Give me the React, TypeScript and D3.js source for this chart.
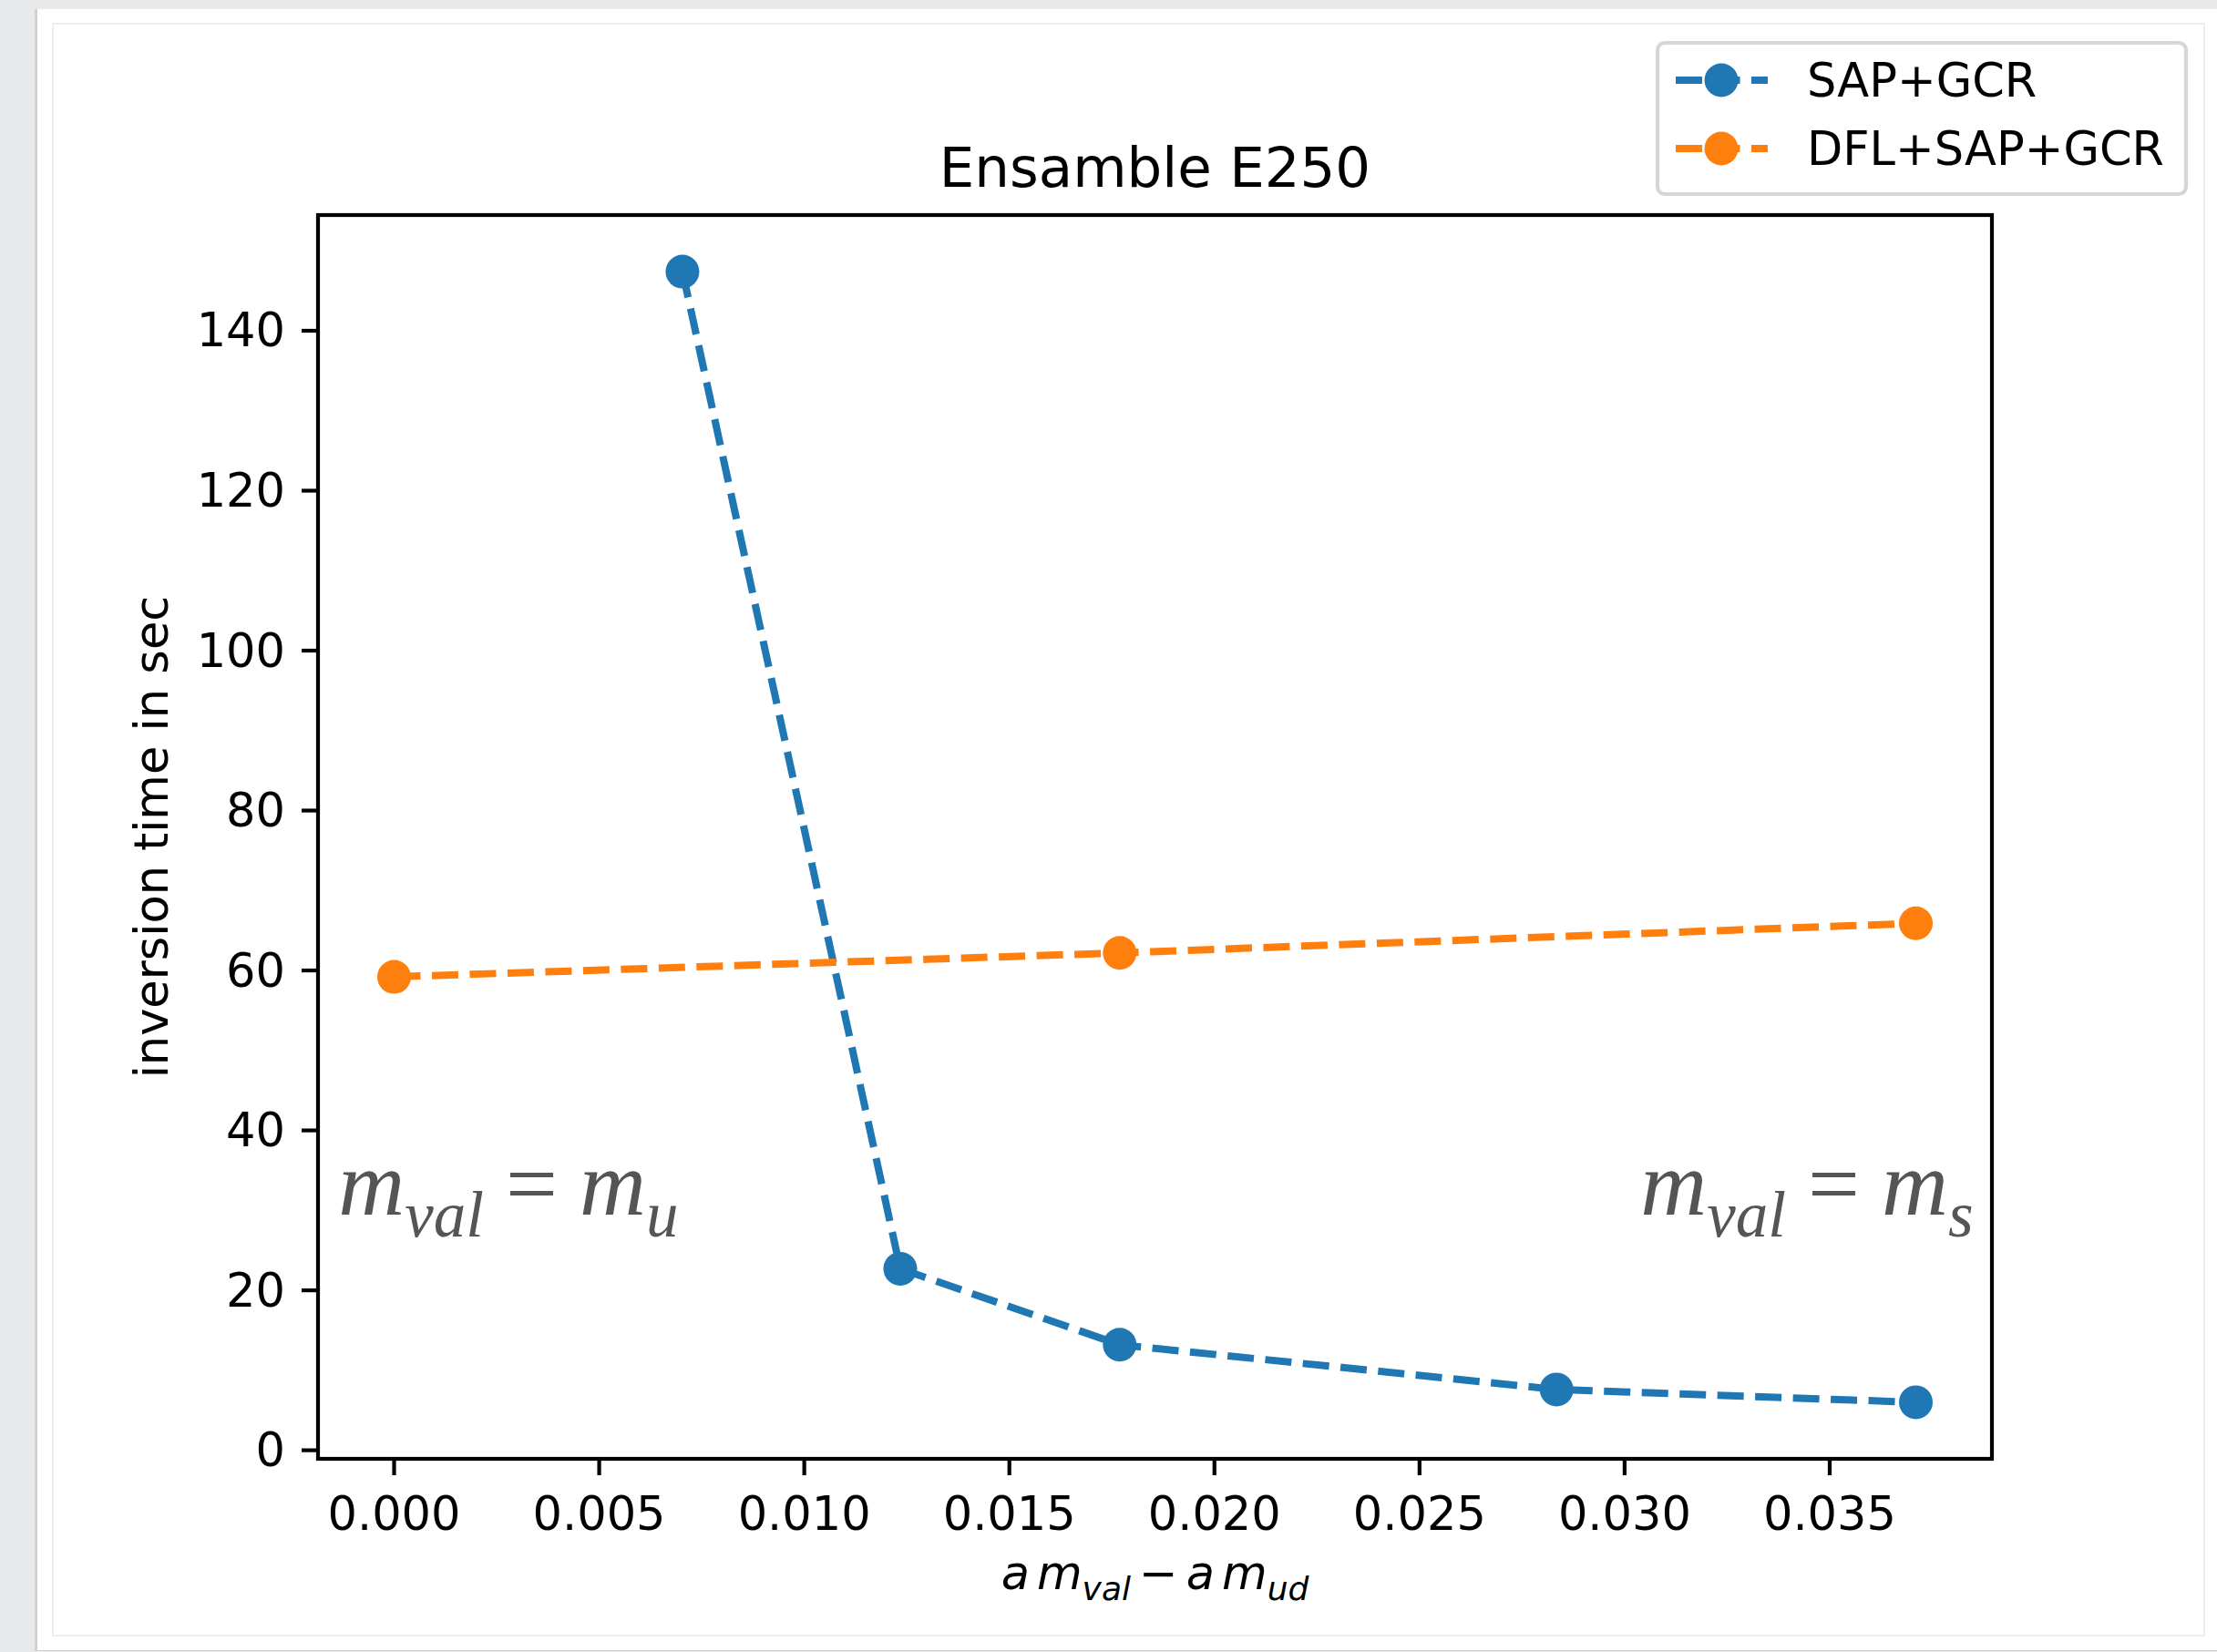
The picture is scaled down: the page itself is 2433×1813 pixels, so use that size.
import React from "react";
import * as d3 from "d3";

// data
const xSap = [0.00703, 0.01234, 0.01769, 0.02834, 0.0371];
const tSap = [147.4, 22.7, 13.2, 7.6, 6.0];
const xDfl = [0.0, 0.01769, 0.0371];
const tDfl = [59.2, 62.2, 65.9];
const xTicks = [0, 0.005, 0.01, 0.015, 0.02, 0.025, 0.03, 0.035];
const yTicks = [0, 20, 40, 60, 80, 100, 120, 140];
const seriesNames = ["SAP+GCR", "DFL+SAP+GCR"];
const seriesColors = ["#1f77b4", "#ff7f0e"];

const W = 2433;
const H = 1813;
const box = { left: 349, top: 236, right: 2186, bottom: 1601 };

// matplotlib-like 5% margins
const pad = (lo: number, hi: number): [number, number] => {
  const m = (hi - lo) * 0.05;
  return [lo - m, hi + m];
};

const allX = [...xSap, ...xDfl];
const allY = [...tSap, ...tDfl];

const x = d3
  .scaleLinear()
  .domain(pad(d3.min(allX)!, d3.max(allX)!))
  .range([box.left, box.right]);
const y = d3
  .scaleLinear()
  .domain(pad(d3.min(allY)!, d3.max(allY)!))
  .range([box.bottom, box.top]);

const LW = 8;
const DASH = "29 12.5";
const MR = 18.5;
const TICK = 18;
const SANS = "'DejaVu Sans', sans-serif";
const SERIF = "'Liberation Serif', 'DejaVu Serif', serif";

const line = d3
  .line<[number, number]>()
  .x((d) => x(d[0]))
  .y((d) => y(d[1]));

const Annotation = ({ xv, yv, anchor, sub }: { xv: number; yv: number; anchor: "start" | "end"; sub: string }) => (
  <text
    x={x(xv)}
    y={y(yv)}
    textAnchor={anchor}
    fontFamily={SERIF}
    fontSize={101}
    fill="#555555"
  >
    <tspan fontStyle="italic">m</tspan>
    <tspan fontStyle="italic" fontSize={71} dy={24}>
      val
    </tspan>
    <tspan dy={-24} dx={24}>
      =
    </tspan>
    <tspan fontStyle="italic" dx={24}>
      m
    </tspan>
    <tspan fontStyle="italic" fontSize={71} dy={24}>
      {sub}
    </tspan>
  </text>
);

export default function App() {
  const sap: [number, number][] = xSap.map((v, i) => [v, tSap[i]]);
  const dfl: [number, number][] = xDfl.map((v, i) => [v, tDfl[i]]);
  const series = [sap, dfl];

  return (
    <svg
      width={W}
      height={H}
      style={{ position: "absolute", left: 0, top: 0 }}
      viewBox={`0 0 ${W} ${H}`}
    >
      {/* page background */}
      <rect x={0} y={0} width={W} height={H} fill="#e8e9eb" />
      <rect x={38} y={10} width={W - 38} height={1802} fill="#d0d1d3" />
      <rect x={41} y={10} width={W - 41} height={1801} fill="#ffffff" />
      <rect
        x={58}
        y={26}
        width={2419 - 58}
        height={1795 - 26}
        fill="none"
        stroke="#eeeeee"
        strokeWidth={2}
      />

      {/* title */}
      <text
        x={(box.left + box.right) / 2}
        y={205}
        textAnchor="middle"
        fontFamily={SANS}
        fontSize={61}
        fill="#000"
      >
        Ensamble E250
      </text>

      {/* annotations */}
      <Annotation xv={-0.00136} yv={29.5} anchor="start" sub="u" />
      <Annotation xv={0.0385} yv={29.5} anchor="end" sub="s" />

      {/* series */}
      {series.map((pts, si) => (
        <g key={si}>
          <path
            d={line(pts)!}
            fill="none"
            stroke={seriesColors[si]}
            strokeWidth={LW}
            strokeDasharray={DASH}
          />
          {pts.map((p, i) => (
            <circle key={i} cx={x(p[0])} cy={y(p[1])} r={MR} fill={seriesColors[si]} />
          ))}
        </g>
      ))}

      {/* frame */}
      <rect
        x={box.left}
        y={box.top}
        width={box.right - box.left}
        height={box.bottom - box.top}
        fill="none"
        stroke="#000"
        strokeWidth={4.2}
      />

      {/* x ticks */}
      {xTicks.map((t) => (
        <g key={t}>
          <line
            x1={x(t)}
            x2={x(t)}
            y1={box.bottom}
            y2={box.bottom + TICK}
            stroke="#000"
            strokeWidth={4.2}
          />
          <text
            x={x(t)}
            y={1679}
            textAnchor="middle"
            fontFamily={SANS}
            fontSize={51}
            fill="#000"
          >
            {t.toFixed(3)}
          </text>
        </g>
      ))}

      {/* y ticks */}
      {yTicks.map((t) => (
        <g key={t}>
          <line
            x1={box.left - TICK}
            x2={box.left}
            y1={y(t)}
            y2={y(t)}
            stroke="#000"
            strokeWidth={4.2}
          />
          <text
            x={box.left - TICK - 18}
            y={y(t)}
            textAnchor="end"
            dominantBaseline="central"
            fontFamily={SANS}
            fontSize={51}
            fill="#000"
          >
            {t}
          </text>
        </g>
      ))}

      {/* axis labels */}
      <text
        transform={`translate(166, ${(box.top + box.bottom) / 2}) rotate(-90)`}
        textAnchor="middle"
        dominantBaseline="central"
        fontFamily={SANS}
        fontSize={51}
        fill="#000"
      >
        inversion time in sec
      </text>
      <text
        x={(box.left + box.right) / 2}
        y={1744}
        textAnchor="middle"
        fontFamily={SANS}
        fontStyle="italic"
        fontSize={51}
        fill="#000"
      >
        <tspan>a</tspan>
        <tspan dx={8}>m</tspan>
        <tspan fontSize={36} dy={12}>
          val
        </tspan>
        <tspan dy={-12} dx={9} fontStyle="normal">
          −
        </tspan>
        <tspan dx={9}>a</tspan>
        <tspan dx={8}>m</tspan>
        <tspan fontSize={36} dy={12}>
          ud
        </tspan>
      </text>

      {/* legend */}
      <rect
        x={1819}
        y={47}
        width={580}
        height={166}
        rx={8}
        fill="#ffffff"
        stroke="#d6d6d6"
        strokeWidth={4.2}
      />
      {seriesNames.map((name, i) => {
        const cy = 88 + i * 75;
        return (
          <g key={name}>
            <line
              x1={1839}
              x2={1940}
              y1={cy}
              y2={cy}
              stroke={seriesColors[i]}
              strokeWidth={LW}
              strokeDasharray={DASH}
            />
            <circle cx={1889} cy={cy} r={MR} fill={seriesColors[i]} />
            <text
              x={1983}
              y={cy}
              dominantBaseline="central"
              fontFamily={SANS}
              fontSize={51}
              fill="#000"
            >
              {name}
            </text>
          </g>
        );
      })}
    </svg>
  );
}
